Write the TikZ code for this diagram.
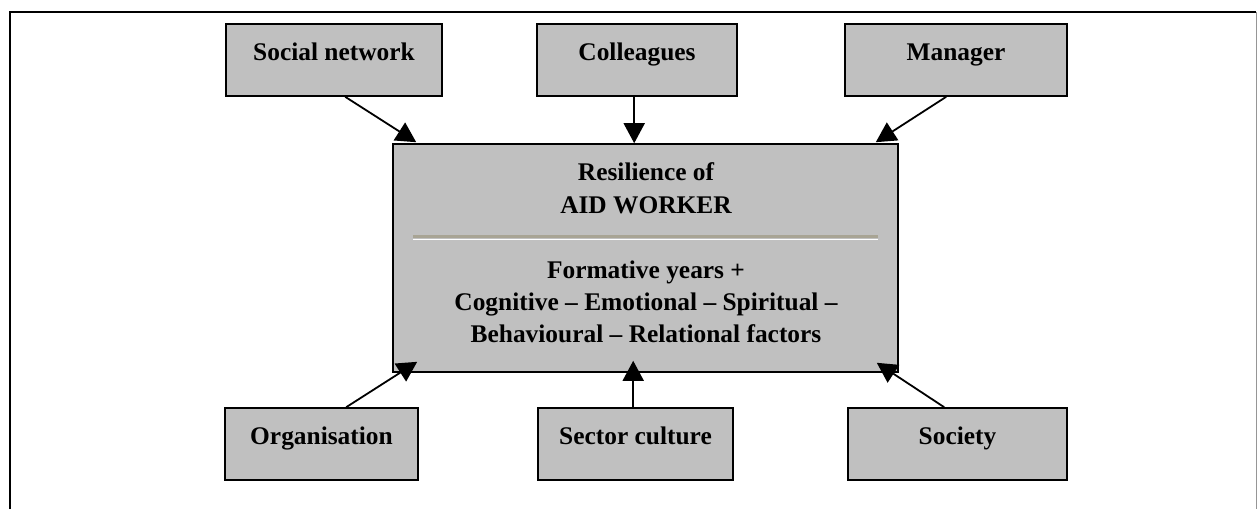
\documentclass[tikz,border=0pt]{standalone}
\usepackage{fontspec}
\setmainfont{Liberation Serif}
\usetikzlibrary{arrows.meta,calc}
\definecolor{boxgray}{RGB}{192,192,192}
\definecolor{rulegray}{RGB}{168,164,148}
\definecolor{framegray}{RGB}{150,150,150}
\tikzset{
  boxnode/.style={draw=black, line width=0.8pt, fill=boxgray, rectangle,
    minimum height=36pt, text height=9pt, text depth=9pt, inner sep=0pt,
    font=\fontsize{12.7}{16.3}\selectfont\bfseries},
  txt/.style={inner sep=0pt, font=\fontsize{12.7}{16.3}\selectfont\bfseries},
  conn/.style={line width=0.9pt, -{Triangle[length=10pt,width=10.5pt]}},
}
\begin{document}
\begin{tikzpicture}[x=0.5pt,y=-0.5pt]
\useasboundingbox (0,0) rectangle (1258,509);
% frame
\draw[line width=0.8pt] (10,509) -- (10,12) -- (1256,12);
\draw[line width=0.5pt, framegray] (1256,12) -- (1256,509);
% boxes
\node[boxnode, minimum width=108pt] (sn) at (334,60) {Social network};
\node[boxnode, minimum width=100pt] (co) at (637,60) {Colleagues};
\node[boxnode, minimum width=111pt] (ma) at (956,60) {Manager};
\node[boxnode, minimum width=96.5pt] (or) at (321.5,444) {Organisation};
\node[boxnode, minimum width=97.5pt] (sc) at (635.5,444) {Sector culture};
\node[boxnode, minimum width=109.5pt] (so) at (957.5,444) {Society};
\node[draw=black, line width=0.8pt, fill=boxgray, rectangle, inner sep=0pt,
  minimum width=252.5pt, minimum height=114pt] (cb) at (645.5,258) {};
% texts in central box
\node[txt, anchor=base] (t1) at (646,180) {Resilience of};
\node[txt, anchor=base] (t2) at (646,213) {AID WORKER};
\node[txt, anchor=base] (t3) at (646,278) {Formative years +};
\node[txt, anchor=base] (t4) at (646,310) {Cognitive – Emotional – Spiritual –};
\node[txt, anchor=base] (t5) at (646,342) {Behavioural – Relational factors};
% separator rule
\draw[line width=1.5pt, rulegray] (413,236) -- (878,236);
\draw[line width=0.5pt, white] (413,239) -- (878,239);
% connectors
\draw[conn] ($(sn.south west)+(120,0)$) -- ($(cb.north west)+(24,-1)$);
\draw[conn] ($(co.south west)+(98,0)$) -- ($(cb.north west)+(242,0)$);
\draw[conn] ($(ma.south west)+(102,0)$) -- ($(cb.north east)+(-23,-1)$);
\draw[conn] ($(or.north west)+(122,0)$) -- ($(cb.south west)+(25,-11)$);
\draw[conn] ($(sc.north west)+(96,0)$) -- ($(cb.south west)+(241,-12)$);
\draw[conn] ($(so.north west)+(97,0)$) -- ($(cb.south east)+(-22,-10)$);
\end{tikzpicture}
\end{document}
